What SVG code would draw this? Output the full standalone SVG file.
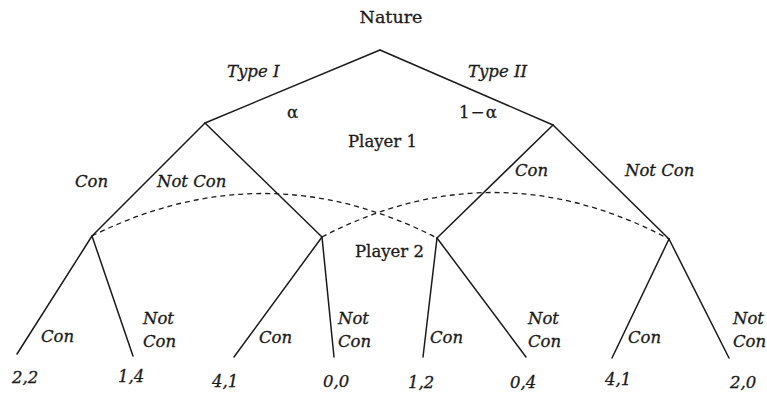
<svg xmlns="http://www.w3.org/2000/svg" width="767" height="398" viewBox="0 0 767 398">
  <style>
    .edge { stroke: #1a1a1a; stroke-width: 1.5; fill: none; stroke-linecap: round; }
    .info { stroke: #1a1a1a; stroke-width: 1.3; fill: none; stroke-dasharray: 5 4; }
    text { font-family: "DejaVu Serif", "Liberation Serif", serif; font-size: 16.5px; fill: #1a1a1a; stroke: #1a1a1a; stroke-width: 0.3; }
    .it { font-style: italic; }
    .lbl { font-size: 17.5px; }
  </style>
  <rect width="767" height="398" fill="#ffffff"/>

  <!-- tree branches -->
  <g id="connectors">
    <line class="edge" x1="380" y1="50" x2="205" y2="123"/>
    <line class="edge" x1="380" y1="50" x2="553" y2="125"/>
    <line class="edge" x1="205" y1="123" x2="92" y2="236"/>
    <line class="edge" x1="205" y1="123" x2="322" y2="237"/>
    <line class="edge" x1="553" y1="125" x2="437" y2="238"/>
    <line class="edge" x1="553" y1="125" x2="669" y2="239"/>
    <line class="edge" x1="92" y1="236" x2="17" y2="354"/>
    <line class="edge" x1="92" y1="236" x2="133" y2="356"/>
    <line class="edge" x1="322" y1="237" x2="234" y2="357"/>
    <line class="edge" x1="322" y1="237" x2="334" y2="357"/>
    <line class="edge" x1="437" y1="238" x2="423" y2="357"/>
    <line class="edge" x1="437" y1="238" x2="526" y2="357"/>
    <line class="edge" x1="669" y1="239" x2="612" y2="358"/>
    <line class="edge" x1="669" y1="239" x2="729" y2="358"/>
    <!-- information sets of player 2 -->
    <path class="info" d="M92,236 Q265,150 437,238"/>
    <path class="info" d="M322,237 Q495,147 669,239"/>
  </g>

  <g id="nature">
    <text class="lbl" x="391" y="23" text-anchor="middle">Nature</text>
  </g>
  <g id="type-labels">
    <text class="it" x="227" y="77">Type I</text>
    <text class="it" x="468" y="77">Type II</text>
    <text x="287" y="118">α</text>
    <text x="459" y="118" textLength="38" lengthAdjust="spacing">1 − α</text>
  </g>
  <g id="player1">
    <text x="348" y="147">Player 1</text>
    <text class="it" x="75" y="187">Con</text>
    <text class="it" x="157" y="187">Not Con</text>
    <text class="it" x="515" y="176">Con</text>
    <text class="it" x="625" y="176">Not Con</text>
  </g>
  <g id="player2">
    <text x="355" y="257">Player 2</text>
    <text class="it" x="41" y="342">Con</text>
    <text class="it" x="143" y="324">Not</text>
    <text class="it" x="143" y="347">Con</text>
    <text class="it" x="259" y="343">Con</text>
    <text class="it" x="338" y="324">Not</text>
    <text class="it" x="338" y="347">Con</text>
    <text class="it" x="430" y="343">Con</text>
    <text class="it" x="528" y="324">Not</text>
    <text class="it" x="528" y="347">Con</text>
    <text class="it" x="628" y="343">Con</text>
    <text class="it" x="733" y="324">Not</text>
    <text class="it" x="733" y="347">Con</text>
  </g>
  <g id="payoffs">
    <text class="it" x="12" y="383">2,2</text>
    <text class="it" x="118" y="382">1,4</text>
    <text class="it" x="212" y="387">4,1</text>
    <text class="it" x="323" y="387">0,0</text>
    <text class="it" x="408" y="388">1,2</text>
    <text class="it" x="510" y="388">0,4</text>
    <text class="it" x="605" y="385">4,1</text>
    <text class="it" x="730" y="388">2,0</text>
  </g>
</svg>
